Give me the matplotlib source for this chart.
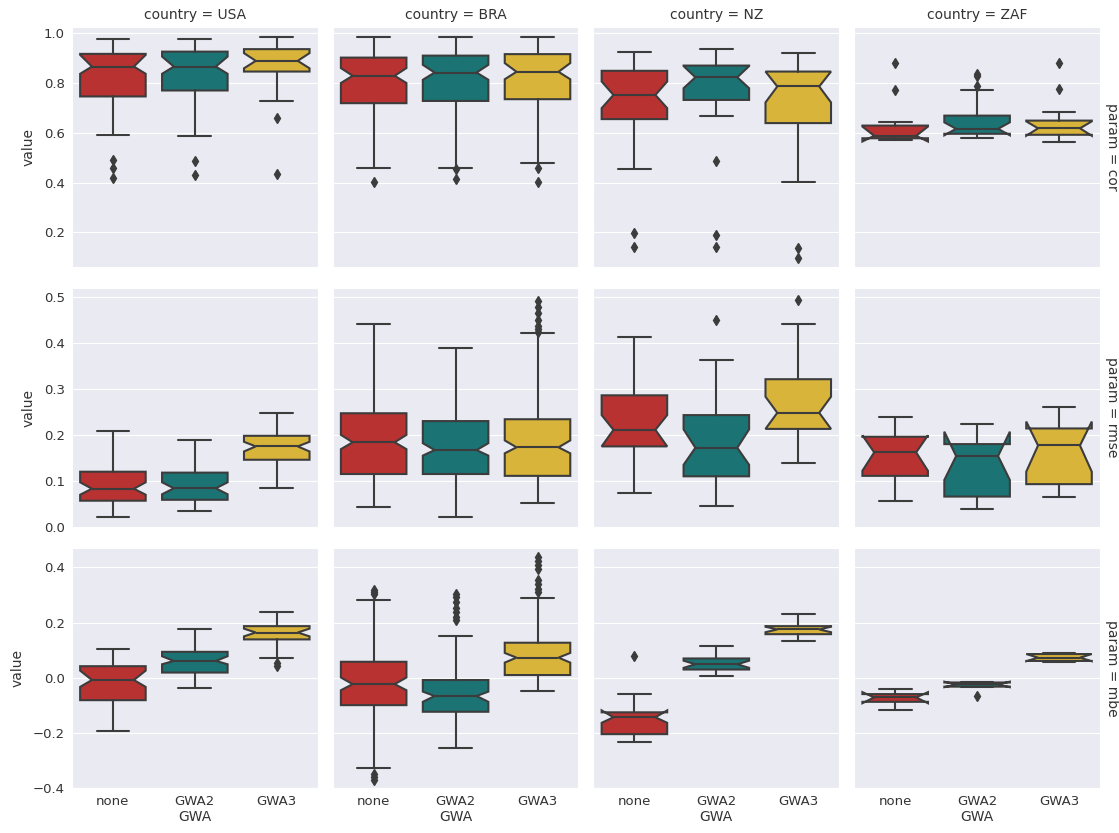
import matplotlib
matplotlib.use("Agg")
import matplotlib.pyplot as plt
import seaborn as sns

countries = ["USA", "BRA", "NZ", "ZAF"]
gwa_levels = ["none", "GWA2", "GWA3"]
params = ["cor", "rmse", "mbe"]
colors = ["#b83232", "#1b7374", "#d8b43a"]

# each box: [whislo, q1, cilo, med, cihi, q3, whishi]
cor_stats = [
    [[0.592, 0.746, 0.837, 0.866, 0.913, 0.917, 0.976],
     [0.588, 0.770, 0.837, 0.866, 0.906, 0.926, 0.976],
     [0.726, 0.846, 0.859, 0.889, 0.920, 0.936, 0.983]],
    [[0.460, 0.719, 0.800, 0.829, 0.860, 0.902, 0.983],
     [0.460, 0.728, 0.813, 0.842, 0.873, 0.910, 0.983],
     [0.478, 0.735, 0.815, 0.845, 0.880, 0.916, 0.983]],
    [[0.455, 0.655, 0.699, 0.752, 0.806, 0.849, 0.926],
     [0.669, 0.732, 0.779, 0.823, 0.868, 0.870, 0.937],
     [0.404, 0.639, 0.722, 0.786, 0.846, 0.846, 0.922]],
    [[0.572, 0.578, 0.565, 0.588, 0.625, 0.629, 0.643],
     [0.578, 0.596, 0.590, 0.616, 0.642, 0.669, 0.770],
     [0.562, 0.592, 0.588, 0.618, 0.646, 0.649, 0.685]],
]
cor_fliers = [
    [[0.420, 0.458, 0.490], [0.431, 0.486], [0.435, 0.659]],
    [[0.404], [0.415, 0.455], [0.404, 0.458]],
    [[0.143, 0.197], [0.143, 0.188, 0.486], [0.096, 0.137]],
    [[0.770, 0.882], [0.789, 0.829, 0.837], [0.776, 0.882]],
]

rmse_stats = [
    [[0.022, 0.057, 0.070, 0.083, 0.097, 0.120, 0.209],
     [0.034, 0.059, 0.071, 0.084, 0.097, 0.118, 0.188],
     [0.084, 0.146, 0.164, 0.175, 0.185, 0.198, 0.247]],
    [[0.043, 0.115, 0.169, 0.184, 0.200, 0.247, 0.442],
     [0.022, 0.115, 0.155, 0.167, 0.182, 0.230, 0.389],
     [0.052, 0.111, 0.160, 0.173, 0.188, 0.234, 0.421]],
    [[0.074, 0.175, 0.175, 0.211, 0.243, 0.286, 0.413],
     [0.045, 0.110, 0.135, 0.172, 0.212, 0.243, 0.362],
     [0.140, 0.213, 0.213, 0.248, 0.283, 0.321, 0.442]],
    [[0.056, 0.111, 0.122, 0.162, 0.199, 0.196, 0.238],
     [0.040, 0.066, 0.102, 0.154, 0.207, 0.180, 0.223],
     [0.066, 0.093, 0.120, 0.177, 0.229, 0.214, 0.261]],
]
rmse_fliers = [
    [[], [], []],
    [[], [], [0.424, 0.430, 0.437, 0.450, 0.465, 0.478, 0.490]],
    [[], [0.449], [0.494]],
    [[], [], []],
]

mbe_stats = [
    [[-0.192, -0.081, -0.033, -0.008, 0.026, 0.042, 0.106],
     [-0.036, 0.019, 0.049, 0.061, 0.078, 0.094, 0.175],
     [0.072, 0.139, 0.150, 0.164, 0.178, 0.187, 0.239]],
    [[-0.328, -0.099, -0.045, -0.023, 0.001, 0.058, 0.283],
     [-0.255, -0.123, -0.087, -0.066, -0.050, -0.008, 0.151],
     [-0.047, 0.010, 0.055, 0.073, 0.090, 0.127, 0.289]],
    [[-0.234, -0.204, -0.163, -0.143, -0.118, -0.125, -0.057],
     [0.007, 0.030, 0.036, 0.049, 0.062, 0.070, 0.114],
     [0.133, 0.158, 0.165, 0.175, 0.185, 0.187, 0.230]],
    [[-0.117, -0.087, -0.092, -0.071, -0.052, -0.059, -0.041],
     [-0.035, -0.032, -0.034, -0.024, -0.014, -0.017, -0.014],
     [0.058, 0.061, 0.060, 0.073, 0.086, 0.086, 0.090]],
]
mbe_fliers = [
    [[], [], [0.042, 0.052]],
    [[-0.370, -0.360, -0.350, 0.305, 0.311, 0.319],
     [0.208, 0.220, 0.239, 0.251, 0.275, 0.293, 0.305],
     [0.311, 0.323, 0.341, 0.355, 0.395, 0.407, 0.423, 0.437]],
    [[0.078], [], []],
    [[], [-0.066], []],
]

row_ylims = [(0.061, 1.025), (-0.0015, 0.52), (-0.40, 0.469)]
row_yticks = [[0.2, 0.4, 0.6, 0.8, 1.0],
              [0.0, 0.1, 0.2, 0.3, 0.4, 0.5],
              [-0.4, -0.2, 0.0, 0.2, 0.4]]

all_stats = [cor_stats, rmse_stats, mbe_stats]
all_fliers = [cor_fliers, rmse_fliers, mbe_fliers]

sns.set_style("darkgrid")
plt.rcParams["font.family"] = ["DejaVu Sans"]
edge = "#3c3c3c"
text_col = "#333333"
box_w = 0.8
notch_half = 0.256  # half width of the box at the median notch

fig, axes = plt.subplots(3, 4, figsize=(11.19, 8.33), dpi=100)
fig.subplots_adjust(left=0.0643, right=0.983, top=0.9676, bottom=0.0537,
                    wspace=0.061, hspace=0.086)

for r, p in enumerate(params):
    for c, country in enumerate(countries):
        ax = axes[r, c]
        stats = []
        for g, name in enumerate(gwa_levels):
            s = all_stats[r][c][g]
            stats.append({
                "whislo": s[0], "q1": s[1], "cilo": s[2], "med": s[3],
                "cihi": s[4], "q3": s[5], "whishi": s[6],
                "fliers": all_fliers[r][c][g], "label": name,
            })
        pos = [0, 1, 2]
        bp = ax.bxp(stats, positions=pos, widths=box_w, patch_artist=True,
                    shownotches=True,
                    boxprops=dict(edgecolor=edge, linewidth=1.5),
                    medianprops=dict(color=edge, linewidth=1.5),
                    whiskerprops=dict(color=edge, linewidth=1.5),
                    capprops=dict(color=edge, linewidth=1.5),
                    flierprops=dict(marker="d", markerfacecolor=edge,
                                    markeredgecolor=edge, markersize=5.5))
        for patch, col, x0 in zip(bp["boxes"], colors, pos):
            patch.set_facecolor(col)
            # shallower notch, like the older seaborn look
            verts = patch.get_path().vertices
            for v in verts:
                if abs(abs(v[0] - x0) - box_w * 0.25) < 1e-6:
                    v[0] = x0 + notch_half * (1 if v[0] > x0 else -1)
        for med, x0 in zip(bp["medians"], pos):
            med.set_xdata([x0 - notch_half, x0 + notch_half])
        ax.set_xlim(-0.5, 2.5)
        ax.set_ylim(*row_ylims[r])
        ax.set_yticks(row_yticks[r])
        ax.xaxis.grid(False)
        ax.tick_params(length=0, labelsize=9.5, colors=text_col, pad=5)
        if c == 0:
            ax.set_ylabel("value", fontsize=10, color=text_col, labelpad=6)
        else:
            ax.set_yticklabels([])
        ax.set_xticks(pos)
        if r == 2:
            ax.set_xticklabels(gwa_levels)
            ax.set_xlabel("GWA", fontsize=10, color=text_col, labelpad=1)
        else:
            ax.set_xticklabels([])
        if r == 0:
            ax.set_title(f"country = {country}", fontsize=10, color=text_col, pad=6)
        if c == 3:
            ax.annotate(f"param = {p}", xy=(1.02, 0.5), xycoords="axes fraction",
                        rotation=270, va="center", ha="left", fontsize=10,
                        color=text_col)

fig.savefig("out.png", dpi=100)
